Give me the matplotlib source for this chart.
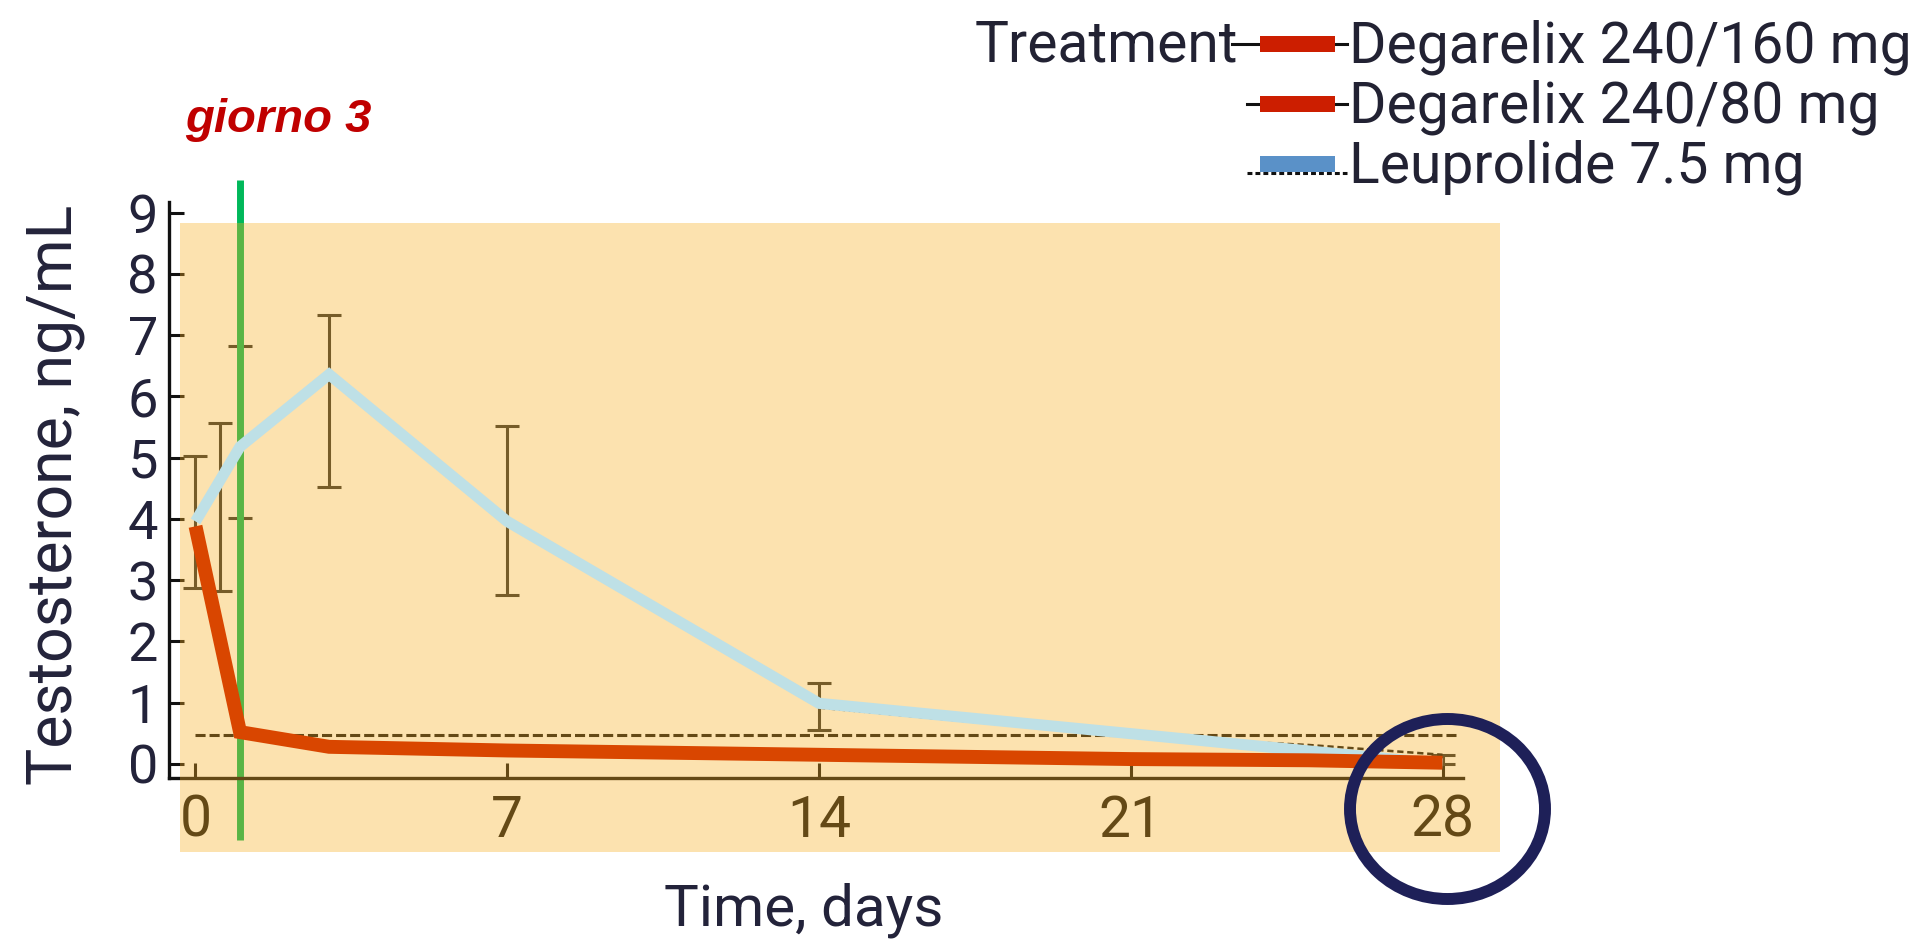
import matplotlib
matplotlib.use("Agg")
import matplotlib.pyplot as plt
from matplotlib import font_manager
from matplotlib.lines import Line2D
from matplotlib.patches import Rectangle, Ellipse

# data
deg_days = [0, 1, 3, 7, 14, 21, 25, 28]
deg_vals = [3.88, 0.52, 0.28, 0.22, 0.15, 0.08, 0.06, 0.02]

leu_days = [0, 1, 3, 7, 14, 28]
leu_vals = [3.96, 5.18, 6.36, 3.96, 0.99, 0.0]

# thin dotted leuprolide line peeking out under the highlight
leu_dot_days = [14, 21, 25, 28]
leu_dot_vals = [0.92, 0.45, 0.31, 0.15]

err_days = [0, 0.55, 1, 3, 7, 14, 28]
err_lo = [2.87, 2.82, 4.01, 4.52, 2.76, 0.56, 0.0]
err_hi = [5.02, 5.57, 6.82, 7.33, 5.51, 1.32, 0.15]

threshold = 0.48
marker_day = 1
xticks = [0, 7, 14, 21, 28]
yticks = list(range(10))
legend_labels = ["Degarelix 240/160 mg", "Degarelix 240/80 mg", "Leuprolide 7.5 mg"]

W, H = 1917, 950
names = {f.name for f in font_manager.fontManager.ttflist}
FONT = "Liberation Sans Narrow" if "Liberation Sans Narrow" in names else "Roboto"
plt.rcParams['font.family'] = [FONT, 'DejaVu Sans']


def fx(px):
    return px / W


def fy(py):
    return 1 - py / H


fig = plt.figure(figsize=(W / 100, H / 100), dpi=100, facecolor='white')

# axes box: spine left 169px, right 1463px, bottom 778px, top 202px
pos = [fx(169), fy(778.3), (1463 - 169) / W, (778.3 - 201.7) / H]
xlim = (-0.595, 28.46)
ylim = (-0.234, 9.18)

ax = fig.add_axes(pos, zorder=0)
ax.set_xlim(*xlim)
ax.set_ylim(*ylim)
ax.patch.set_alpha(0)
for s in ['top', 'right']:
    ax.spines[s].set_visible(False)
for s in ['left', 'bottom']:
    ax.spines[s].set_linewidth(2.4)
    ax.spines[s].set_color('#111111')
ax.set_xticks(xticks)
ax.set_yticks(yticks)
ax.tick_params(axis='both', direction='in', length=11, width=2.2, color='#111111')
ax.tick_params(axis='x', labelsize=41, pad=11, labelcolor='#111111')
ax.tick_params(axis='y', labelsize=39, pad=8, labelcolor='#23233a')

# error bars, threshold and marker line sit under the peach overlay
mids = [(a + b) / 2 for a, b in zip(err_lo, err_hi)]
half = [(b - a) / 2 for a, b in zip(err_lo, err_hi)]
ax.errorbar(err_days, mids, yerr=half, fmt='none', ecolor='#2e2e2e',
            elinewidth=2.2, capsize=8.5, capthick=2.2)
ax.plot([0, 28.3], [threshold, threshold], color='#111111', lw=2.2,
        linestyle=(0, (3.3, 1.3)))
ax.plot(leu_dot_days, leu_dot_vals, color='#111111', lw=1.8, linestyle=(0, (2.5, 1.5)))
ax.plot([marker_day, marker_day], [-1.24, 9.54], color='#00B85A', lw=5,
        clip_on=False, solid_capstyle='butt')

# peach overlay
fig.add_artist(Rectangle((fx(180), fy(852)), 1320 / W, 629 / H, transform=fig.transFigure,
                         facecolor=(248 / 255, 175 / 255, 33 / 255), alpha=0.36,
                         edgecolor='none', zorder=1))

# highlighted series on top
ax2 = fig.add_axes(pos, zorder=2)
ax2.set_xlim(*xlim)
ax2.set_ylim(*ylim)
ax2.axis('off')
ax2.plot(leu_days, leu_vals, color='#BEE0E6', lw=8, solid_joinstyle='miter',
         solid_capstyle='butt')
ax2.plot(deg_days, deg_vals, color='#D94600', lw=10, solid_joinstyle='miter',
         solid_capstyle='butt')

# axis titles
fig.text(fx(55), fy(495), "Testosterone, ng/mL", rotation=90, ha='center', va='center',
         fontsize=45, color='#23233a')
fig.text(fx(804), fy(910), "Time, days", ha='center', va='center', fontsize=42,
         color='#23233a')

# annotation
fig.text(fx(185), fy(132), "giorno 3", fontsize=34, color='#C00000',
         family=['Liberation Sans', 'DejaVu Sans'], fontweight='bold', fontstyle='italic',
         va='baseline', ha='left')

# legend drawn by hand
fig.text(fx(1238), fy(62), "Treatment", ha='right', va='baseline', fontsize=41,
         color='#222233')
bar_cols = ['#CC1E00', '#CC1E00', '#5A91C8']
bar_cy = [43.8, 103.8, 163.8]
for i, lab in enumerate(legend_labels):
    cy = bar_cy[i]
    x0 = 1232 if i == 0 else 1246.7
    if i < 2:
        fig.add_artist(Line2D([fx(x0), fx(1346.7)], [fy(cy), fy(cy)],
                              transform=fig.transFigure, color='#111111', lw=2.2))
    else:
        fig.add_artist(Line2D([fx(x0), fx(1346.7)], [fy(cy + 9), fy(cy + 9)],
                              transform=fig.transFigure, color='#111111', lw=2.2,
                              linestyle=(0, (1.6, 1.0))))
    fig.add_artist(Rectangle((fx(1260), fy(cy + 7.8)), 75 / W, 15.7 / H,
                             transform=fig.transFigure, facecolor=bar_cols[i],
                             edgecolor='none', zorder=3))
    fig.text(fx(1349), fy(cy + 18.5), lab, ha='left', va='baseline', fontsize=41,
             color='#222233')

# circle around day 28
fig.add_artist(Ellipse((fx(1447.5), fy(809)), 195 / W, 180 / H, transform=fig.transFigure,
                       facecolor='none', edgecolor='#1E2058', lw=8.6, zorder=4))

fig.savefig("out.png", dpi=100, facecolor='white')
